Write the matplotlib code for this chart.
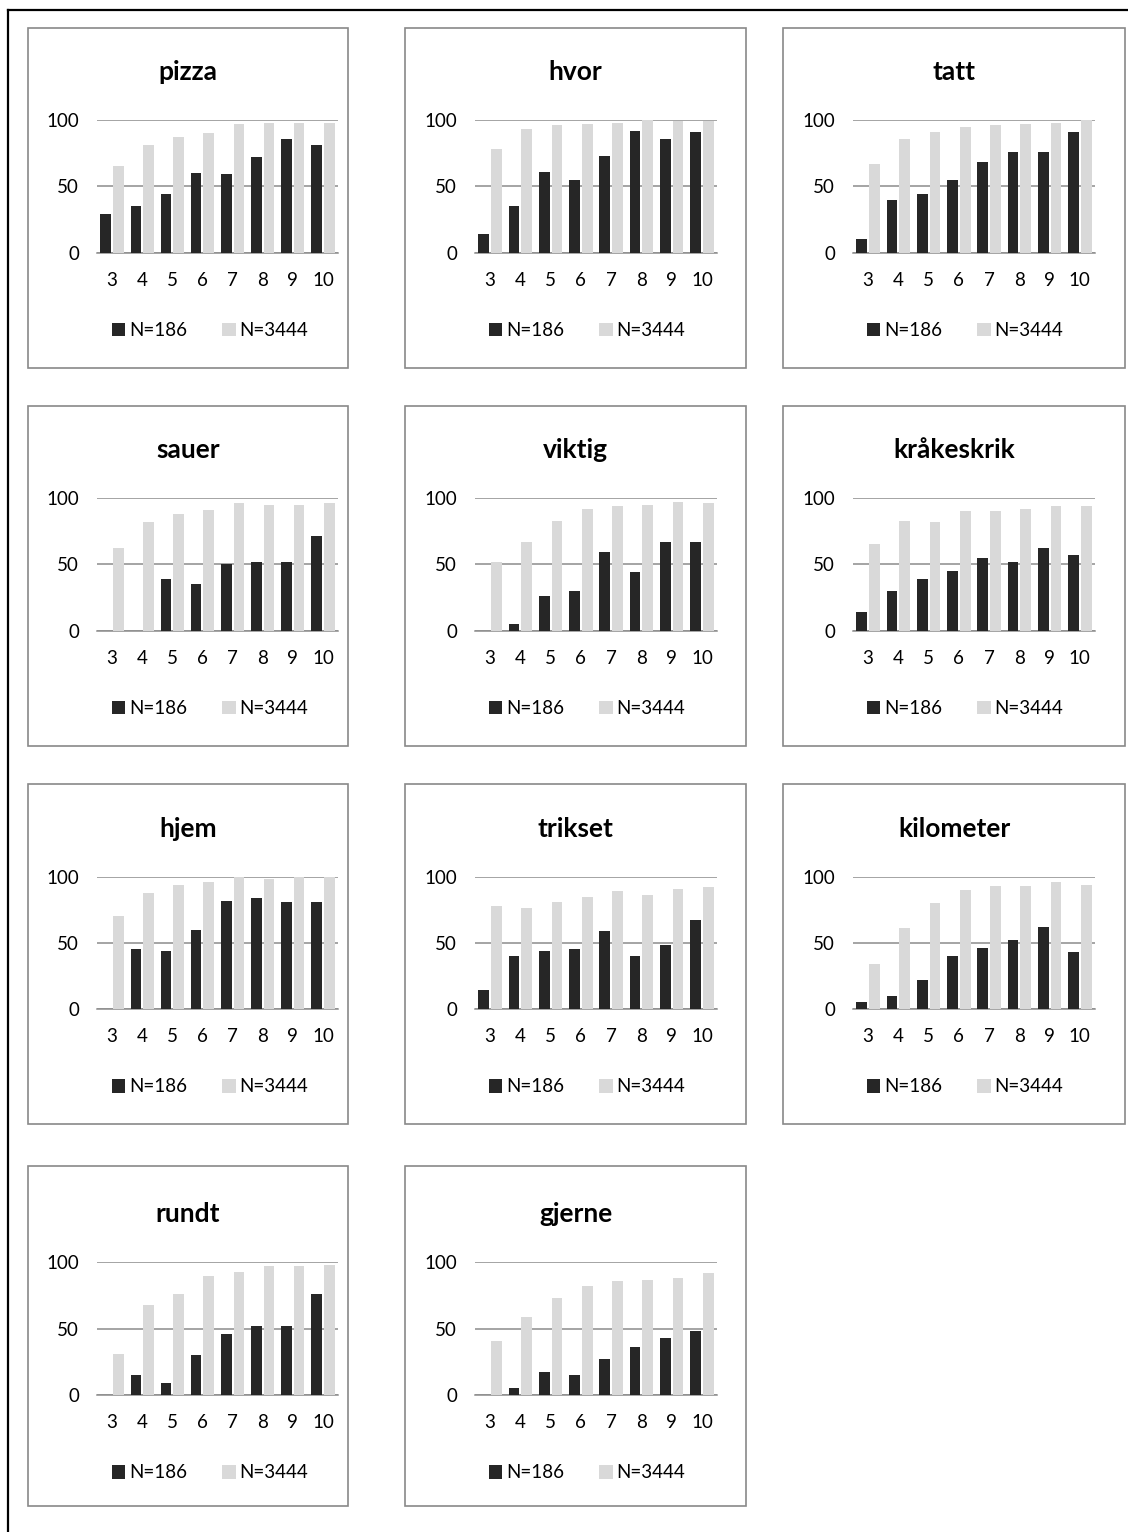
import matplotlib
matplotlib.use("Agg")
import matplotlib.pyplot as plt
import numpy as np
from matplotlib.patches import Rectangle, Patch
from matplotlib.lines import Line2D

plt.rcParams['font.family'] = ['Lato', 'DejaVu Sans']

# Grade levels on the x axis
grades = ['3', '4', '5', '6', '7', '8', '9', '10']
series_labels = ['N=186', 'N=3444']

# Percent correct per grade, small sample (N=186) and large sample (N=3444)
pizza_186 = [29, 35, 44, 60, 59, 72, 86, 81]
pizza_3444 = [65, 81, 87, 90, 97, 98, 98, 98]
hvor_186 = [14, 35, 61, 55, 73, 92, 86, 91]
hvor_3444 = [78, 93, 96, 97, 98, 100, 99, 99]
tatt_186 = [10, 40, 44, 55, 68, 76, 76, 91]
tatt_3444 = [67, 86, 91, 95, 96, 97, 98, 100]
sauer_186 = [0, 0, 39, 35, 50, 52, 52, 71]
sauer_3444 = [62, 82, 88, 91, 96, 95, 95, 96]
viktig_186 = [0, 5, 26, 30, 59, 44, 67, 67]
viktig_3444 = [52, 67, 83, 92, 94, 95, 97, 96]
kraakeskrik_186 = [14, 30, 39, 45, 55, 52, 62, 57]
kraakeskrik_3444 = [65, 83, 82, 90, 90, 92, 94, 94]
hjem_186 = [0, 45, 44, 60, 82, 84, 81, 81]
hjem_3444 = [70, 88, 94, 96, 100, 98, 100, 100]
trikset_186 = [14, 40, 44, 45, 59, 40, 48, 67]
trikset_3444 = [78, 76, 81, 85, 89, 86, 91, 92]
kilometer_186 = [5, 10, 22, 40, 46, 52, 62, 43]
kilometer_3444 = [34, 61, 80, 90, 93, 93, 96, 94]
rundt_186 = [0, 15, 9, 30, 46, 52, 52, 76]
rundt_3444 = [31, 68, 76, 90, 93, 97, 97, 98]
gjerne_186 = [0, 5, 17, 15, 27, 36, 43, 48]
gjerne_3444 = [41, 59, 73, 82, 86, 87, 88, 92]

words = ['pizza', 'hvor', 'tatt', 'sauer', 'viktig', 'kråkeskrik',
         'hjem', 'trikset', 'kilometer', 'rundt', 'gjerne']
small = [pizza_186, hvor_186, tatt_186, sauer_186, viktig_186, kraakeskrik_186,
         hjem_186, trikset_186, kilometer_186, rundt_186, gjerne_186]
large = [pizza_3444, hvor_3444, tatt_3444, sauer_3444, viktig_3444, kraakeskrik_3444,
         hjem_3444, trikset_3444, kilometer_3444, rundt_3444, gjerne_3444]

W, H = 1128, 1532
fig = plt.figure(figsize=(W / 100, H / 100), dpi=100)

DARK = '#262626'
LIGHT = '#D9D9D9'
GRID = '#8C8C8C'


def fx(x):
    return x / W


def fy(y):
    return 1 - y / H


# outer frame (top and left edges)
fig.add_artist(Line2D([fx(8), fx(8)], [fy(10), fy(H + 5)], color='black', lw=1.6,
                      transform=fig.transFigure))
fig.add_artist(Line2D([fx(8), fx(W + 5)], [fy(10), fy(10)], color='black', lw=1.6,
                      transform=fig.transFigure))

panel_left = [28, 405, 783]
panel_right = [348, 746, 1125]
axis_left = [97, 475, 853]
axis_right = [338, 717, 1095]
panel_top = [28, 406, 784, 1166]
row_zero = [252.7, 630.7, 1009, 1395]
row_hundred = [120, 498, 876.7, 1262.3]

x = np.arange(len(grades))

for i, word in enumerate(words):
    r, c = divmod(i, 3)
    pt = panel_top[r]
    fig.add_artist(Rectangle((fx(panel_left[c]), fy(pt + 340)),
                             fx(panel_right[c] - panel_left[c]), 340 / H,
                             transform=fig.transFigure, fill=False,
                             edgecolor='#898989', lw=1.2))
    fig.text(fx((panel_left[c] + panel_right[c]) / 2), fy(row_hundred[r] - 48), word,
             ha='center', va='center', fontsize=19, fontweight='bold')

    ax = fig.add_axes([fx(axis_left[c]), fy(row_zero[r]),
                       fx(axis_right[c] - axis_left[c]),
                       (row_zero[r] - row_hundred[r]) / H])
    ax.bar(x - 0.21, small[i], width=0.35, color=DARK, zorder=3,
           label=series_labels[0])
    ax.bar(x + 0.21, large[i], width=0.35, color=LIGHT, zorder=3,
           label=series_labels[1])
    ax.set_xlim(-0.5, len(grades) - 0.5)
    ax.set_ylim(0, 100)
    ax.set_yticks([0, 50, 100])
    ax.set_xticks(x)
    ax.set_xticklabels(grades)
    ax.set_axisbelow(True)
    ax.yaxis.grid(True, color=GRID, lw=1.1)
    for s in ['left', 'right', 'top']:
        ax.spines[s].set_visible(False)
    ax.spines['bottom'].set_color(GRID)
    ax.spines['bottom'].set_linewidth(1.1)
    ax.tick_params(axis='both', length=0, labelsize=13.5, colors='black')
    ax.tick_params(axis='y', pad=13)
    ax.tick_params(axis='x', pad=14)
    ax.patch.set_visible(False)

    handles = [Patch(facecolor=DARK), Patch(facecolor=LIGHT)]
    fig.legend(handles, series_labels, loc='center',
               bbox_to_anchor=(fx(panel_left[c] + 182), fy(row_zero[r] + 78)),
               ncol=2, frameon=False, fontsize=13.5, handlelength=0.7,
               handleheight=0.7, handletextpad=0.2, columnspacing=1.9)

fig.savefig('out.png', dpi=100)
